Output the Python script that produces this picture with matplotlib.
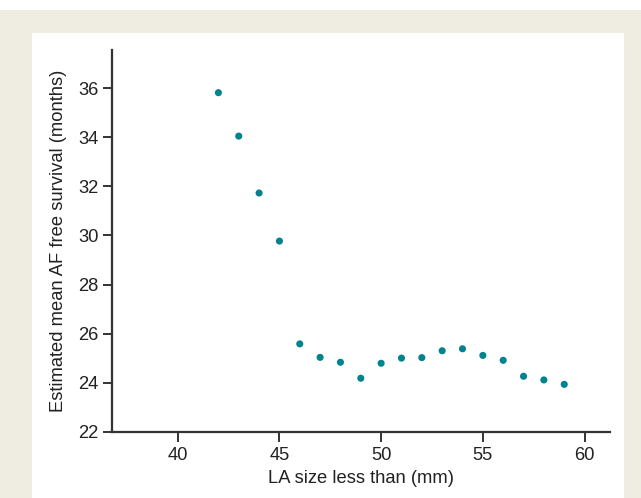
import matplotlib.pyplot as plt
from matplotlib.patches import Rectangle

plt.rcParams['font.family'] = ['Liberation Sans', 'DejaVu Sans']

# LA size cut-off (mm) and estimated mean AF free survival (months)
la_size = [42, 43, 44, 45, 46, 47, 48, 49, 50, 51, 52, 53, 54, 55, 56, 57, 58, 59]
survival = [35.82, 34.05, 31.73, 29.77, 25.58, 25.03, 24.83, 24.18, 24.79,
            25.00, 25.02, 25.30, 25.38, 25.11, 24.91, 24.26, 24.11, 23.93]
x_ticks = [40, 45, 50, 55, 60]
y_ticks = [22, 24, 26, 28, 30, 32, 34, 36]

fig = plt.figure(figsize=(6.41, 4.98), dpi=100)
fig.patch.set_facecolor('white')

# beige frame with white inner panel
fig.patches.append(Rectangle((0, 0), 1, 488 / 498, transform=fig.transFigure,
                             facecolor='#efece2', edgecolor='none', zorder=-2))
fig.patches.append(Rectangle((32 / 641, 0), (624 - 32) / 641, 465 / 498,
                             transform=fig.transFigure, facecolor='white',
                             edgecolor='none', zorder=-1))

ax = fig.add_axes([112 / 641, 66.3 / 498, (610 - 112) / 641, (431.7 - 50) / 498])
ax.patch.set_alpha(0)

ax.scatter(la_size, survival, s=26, color='#00838f', edgecolors='none', zorder=3)

ax.set_xlim(36.77, 61.25)
ax.set_ylim(22, 37.56)
ax.set_xticks(x_ticks)
ax.set_yticks(y_ticks)

for side in ['top', 'right']:
    ax.spines[side].set_visible(False)
for side in ['left', 'bottom']:
    ax.spines[side].set_linewidth(1.6)
    ax.spines[side].set_color('#333333')

fs = 13.2
ax.tick_params(axis='x', length=7.5, width=1.4, color='#333333', pad=3.5, labelsize=fs, labelcolor='#222222')
ax.tick_params(axis='y', length=6.5, width=1.4, color='#333333', pad=3, labelsize=fs, labelcolor='#222222')

ax.set_xlabel('LA size less than (mm)', fontsize=fs, color='#222222', labelpad=4)
ax.set_ylabel('Estimated mean AF free survival (months)', fontsize=fs, color='#222222', labelpad=8)

fig.savefig('out.png', dpi=100)
